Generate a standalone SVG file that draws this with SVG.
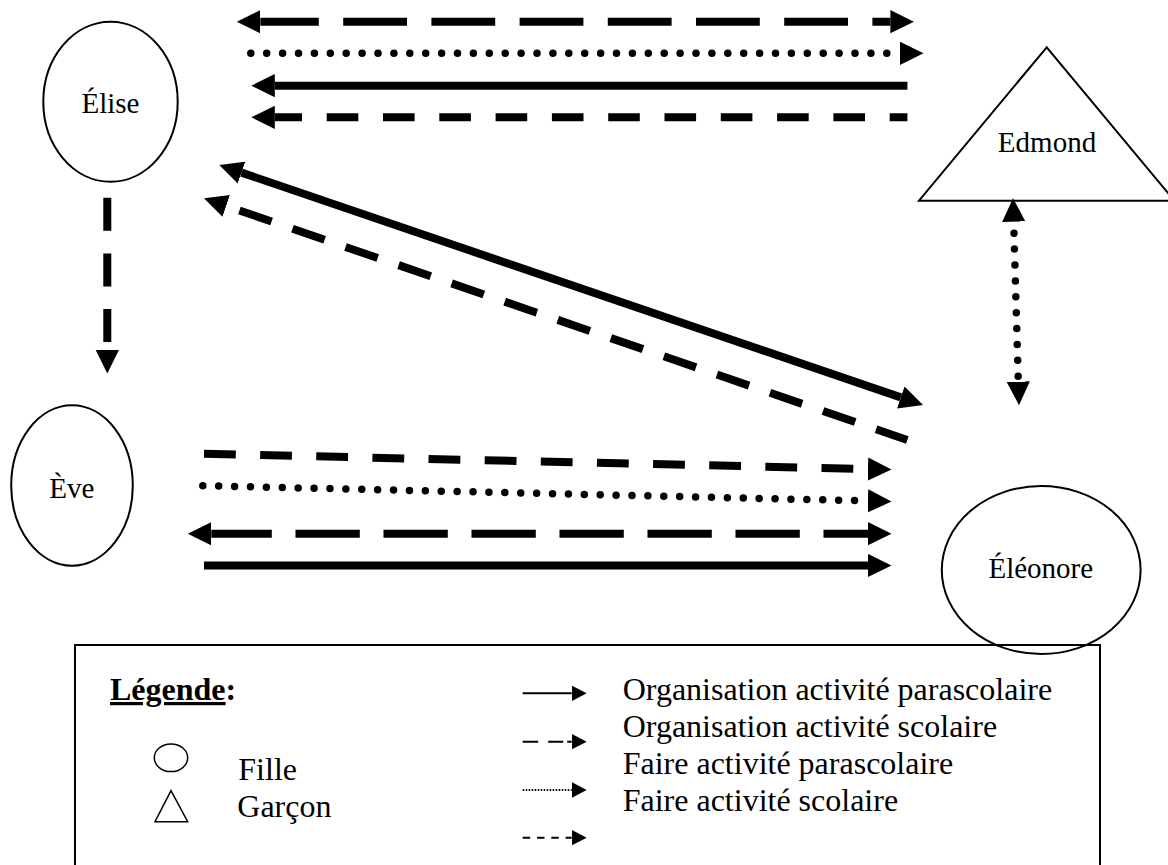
<svg xmlns="http://www.w3.org/2000/svg" width="1168" height="865" viewBox="0 0 1168 865">
<defs>
<marker id="ah" markerUnits="userSpaceOnUse" markerWidth="24" markerHeight="24" viewBox="0 0 24 24" refX="0" refY="12" orient="auto-start-reverse"><path d="M0,0.4 L23.5,12 L0,23.6 z" fill="#000"/></marker>
<marker id="as" markerUnits="userSpaceOnUse" markerWidth="16" markerHeight="16" viewBox="0 0 16 16" refX="0" refY="8" orient="auto-start-reverse"><path d="M0,0.2 L15,8 L0,15.8 z" fill="#000"/></marker>
<style>
.node{fill:none;stroke:#000;stroke-width:2}
.lbl{font-family:"Liberation Serif","Times New Roman",serif;font-size:29px;fill:#000;text-anchor:middle}
.leg{font-family:"Liberation Serif","Times New Roman",serif;font-size:32px;fill:#000}
.c{fill:none;stroke:#000;stroke-width:8;stroke-linecap:butt}
.dot{fill:none;stroke:#000;stroke-width:7.5;stroke-linecap:round;stroke-dasharray:0 15.9}
.lc{fill:none;stroke:#000;stroke-width:2}
</style>
</defs>
<rect x="0" y="0" width="1168" height="865" fill="#fff"/>
<g id="connectors">
<path class="c" d="M260.3,21.7 H890.4" stroke-dasharray="63.8 24.4" stroke-dashoffset="5.3" marker-start="url(#ah)" marker-end="url(#ah)"/>
<path class="dot" d="M250.8,53.3 H900" marker-end="url(#ah)"/>
<path class="c" d="M274.8,85.7 H907.4" marker-start="url(#ah)"/>
<path class="c" d="M274.8,117.3 H907.4" stroke-dasharray="31.6 24.7" stroke-dashoffset="4.4" marker-start="url(#ah)"/>
<path class="c" d="M107.3,197.7 V350" stroke-dasharray="33 22.7" marker-end="url(#ah)"/>
<path class="c" d="M241.5,172.6 L900.8,397.4" marker-start="url(#ah)" marker-end="url(#ah)"/>
<path class="c" d="M226.2,205.9 L907.3,440" stroke-dasharray="34 22.1" stroke-dashoffset="42.1" marker-start="url(#ah)"/>
<path class="dot" d="M1013.7,221.7 L1018.3,381.7" stroke-dasharray="0 16" stroke-dashoffset="4.4" marker-start="url(#ah)" marker-end="url(#ah)"/>
<path class="c" d="M204,453.8 L868,469" stroke-dasharray="31.8 24.35" marker-end="url(#ah)"/>
<path class="dot" d="M202.8,485.7 L868,500.9" stroke-dasharray="0 16" marker-end="url(#ah)"/>
<path class="c" d="M211.3,533.7 H868" stroke-dasharray="64.3 23.7" stroke-dashoffset="3.8" marker-start="url(#ah)" marker-end="url(#ah)"/>
<path class="c" d="M204,565.5 H868" marker-end="url(#ah)"/>
</g>
<g id="elise">
<ellipse class="node" cx="110.5" cy="101.7" rx="67.2" ry="80"/>
<text class="lbl" x="110.5" y="113.3">Élise</text>
</g>
<g id="edmond">
<polygon class="node" points="1046.7,47.3 919,200.7 1174.4,200.7"/>
<text class="lbl" x="1047" y="151.7">Edmond</text>
</g>
<g id="eve">
<ellipse class="node" cx="72" cy="485.5" rx="60.8" ry="80.2"/>
<text class="lbl" x="71.8" y="498.3">Ève</text>
</g>
<g id="eleonore">
<ellipse class="node" cx="1041.2" cy="570" rx="99.4" ry="84"/>
<text class="lbl" x="1040.8" y="578.3">Éléonore</text>
</g>
<g id="legend">
<rect x="75" y="645" width="1025" height="240" fill="none" stroke="#000" stroke-width="2"/>
<text class="leg" x="110" y="700" font-weight="bold"><tspan text-decoration="underline">Légende</tspan>:</text>
<ellipse cx="171" cy="757.8" rx="16.7" ry="13.8" fill="none" stroke="#000" stroke-width="1.5"/>
<polygon points="171,790.7 155,821.7 187.7,821.7" fill="none" stroke="#000" stroke-width="1.5"/>
<text class="leg" x="238.3" y="780">Fille</text>
<text class="leg" x="237.3" y="816.7">Garçon</text>
<path class="lc" d="M522.7,693.3 H571.7" marker-end="url(#as)"/>
<path class="lc" d="M522.7,741.7 H571.7" stroke-dasharray="15.5 10 15 4" marker-end="url(#as)"/>
<path class="lc" d="M522.7,790 H571.7" stroke-width="1.5" stroke-dasharray="1.5 1.5" marker-end="url(#as)"/>
<path class="lc" d="M522.7,837.7 H571.7" stroke-dasharray="7.5 6.8" marker-end="url(#as)"/>
<text class="leg" x="622.7" y="700">Organisation activité parascolaire</text>
<text class="leg" x="622.7" y="737.3">Organisation activité scolaire</text>
<text class="leg" x="622.7" y="774">Faire activité parascolaire</text>
<text class="leg" x="622.7" y="810.7">Faire activité scolaire</text>
</g>
</svg>
